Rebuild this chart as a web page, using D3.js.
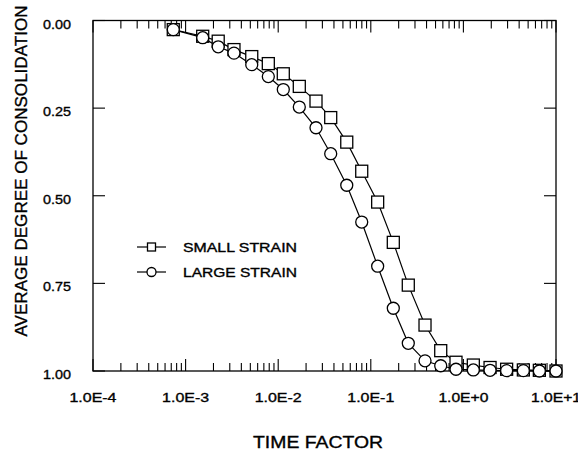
<html>
<head>
  <script src="https://d3js.org/d3.v7.min.js"></script>
  <style>
    body { margin: 0; background: #fff; }
    text { font-family: "Liberation Sans", Arial, sans-serif; fill: #000; stroke: #000; stroke-width: 0.35px; }
    .frame { fill: none; stroke: #000; stroke-width: 1.3px; }
    .tick-line { stroke: #000; stroke-width: 1.1px; }
    .curve { fill: none; stroke: #000; stroke-width: 1.2px; }
    .mark { fill: #fff; stroke: #000; stroke-width: 1.3px; }
  </style>
</head>
<body>
  <svg id="chart" width="578" height="453"></svg>
  <script>
    // time factor (shared by both series)
    const timeFactor = [7.36e-4, 1.53e-3, 2.25e-3, 3.33e-3, 5.18e-3, 7.82e-3, 0.01135, 0.0169,
      0.0256, 0.0369, 0.0550, 0.0798, 0.1186, 0.175, 0.254, 0.385, 0.569, 0.832,
      1.28, 1.94, 2.93, 4.44, 6.61, 10];
    const smallStrain = [0.026, 0.045, 0.059, 0.083, 0.103, 0.123, 0.152, 0.188, 0.230, 0.277,
      0.347, 0.430, 0.518, 0.633, 0.755, 0.869, 0.942, 0.975, 0.983, 0.990, 0.995, 0.997, 0.998, 1.0];
    const largeStrain = [0.026, 0.049, 0.075, 0.093, 0.126, 0.160, 0.197, 0.247, 0.306, 0.380,
      0.470, 0.575, 0.701, 0.821, 0.921, 0.971, 0.985, 0.995, 0.997, 0.998, 0.999, 0.999, 1.0, 1.0];
    const xTickValues = [1e-4, 1e-3, 1e-2, 1e-1, 1, 10];
    const xTickLabels = ["1.0E-4", "1.0E-3", "1.0E-2", "1.0E-1", "1.0E+0", "1.0E+1"];
    const yTickValues = [0, 0.25, 0.5, 0.75, 1];
    const yTickLabels = ["0.00", "0.25", "0.50", "0.75", "1.00"];
    const seriesNames = ["SMALL STRAIN", "LARGE STRAIN"];

    const svg = d3.select("#chart");
    const plotLeft = 93, plotRight = 556, plotTop = 20.5, plotBottom = 371;

    const x = d3.scaleLog().domain([1e-4, 10]).range([plotLeft, plotRight]);
    const y = d3.scaleLinear().domain([0, 1]).range([plotTop, plotBottom]);

    // minor ticks 2..9 in each decade
    let minor = [];
    for (let e = -4; e < 1; e++) {
      for (let k = 2; k <= 9; k++) minor.push(k * Math.pow(10, e));
    }

    const ticks = svg.append("g");
    [[plotBottom, -1], [plotTop, 1]].forEach(([yy, dir]) => {
      ticks.selectAll(null).data(minor).join("line")
        .attr("class", "tick-line")
        .attr("x1", d => x(d)).attr("x2", d => x(d))
        .attr("y1", yy).attr("y2", yy + dir * 8);
      ticks.selectAll(null).data(xTickValues).join("line")
        .attr("class", "tick-line")
        .attr("x1", d => x(d)).attr("x2", d => x(d))
        .attr("y1", yy).attr("y2", yy + dir * 12);
    });
    [[plotLeft, 1], [plotRight, -1]].forEach(([xx, dir]) => {
      ticks.selectAll(null).data(yTickValues).join("line")
        .attr("class", "tick-line")
        .attr("y1", d => y(d)).attr("y2", d => y(d))
        .attr("x1", xx).attr("x2", xx + dir * 12);
    });

    svg.append("rect").attr("class", "frame")
      .attr("x", plotLeft).attr("y", plotTop)
      .attr("width", plotRight - plotLeft).attr("height", plotBottom - plotTop);

    // tick labels
    svg.append("g").selectAll("text").data(xTickValues).join("text")
      .attr("x", d => x(d)).attr("y", 402)
      .attr("text-anchor", "middle")
      .attr("font-size", 13)
      .attr("textLength", (d, i) => xTickLabels[i].includes("+") ? 50 : 47)
      .attr("lengthAdjust", "spacingAndGlyphs")
      .text((d, i) => xTickLabels[i]);

    svg.append("g").selectAll("text").data(yTickValues).join("text")
      .attr("x", 71).attr("y", d => y(d) + 8)
      .attr("text-anchor", "end")
      .attr("font-size", 13)
      .attr("textLength", 28)
      .attr("lengthAdjust", "spacingAndGlyphs")
      .text((d, i) => yTickLabels[i]);

    // axis titles
    svg.append("text")
      .attr("x", 318).attr("y", 448)
      .attr("text-anchor", "middle")
      .attr("font-size", 17)
      .attr("textLength", 130)
      .attr("lengthAdjust", "spacingAndGlyphs")
      .text("TIME FACTOR");

    svg.append("text")
      .attr("transform", "translate(27,171) rotate(-90)")
      .attr("text-anchor", "middle")
      .attr("font-size", 17)
      .attr("textLength", 331)
      .attr("lengthAdjust", "spacingAndGlyphs")
      .text("AVERAGE DEGREE OF CONSOLIDATION");

    // curves
    const line = d3.line().x(d => x(d[0])).y(d => y(d[1]));
    const smallPts = timeFactor.map((t, i) => [t, smallStrain[i]]);
    const largePts = timeFactor.map((t, i) => [t, largeStrain[i]]);

    svg.append("path").datum(smallPts).attr("class", "curve").attr("d", line);
    svg.append("path").datum(largePts).attr("class", "curve").attr("d", line);

    const sq = 12;
    svg.append("g").selectAll("rect").data(smallPts).join("rect")
      .attr("class", "mark")
      .attr("x", d => x(d[0]) - sq / 2).attr("y", d => y(d[1]) - sq / 2)
      .attr("width", sq).attr("height", sq);

    svg.append("g").selectAll("circle").data(largePts).join("circle")
      .attr("class", "mark")
      .attr("cx", d => x(d[0])).attr("cy", d => y(d[1]))
      .attr("r", 6);

    // legend
    const legend = svg.append("g");
    const rows = [247, 272];
    rows.forEach((ly, i) => {
      legend.append("line").attr("class", "curve")
        .attr("x1", 137).attr("x2", 166).attr("y1", ly).attr("y2", ly);
      if (i === 0) {
        legend.append("rect").attr("class", "mark")
          .attr("x", 151.5 - 4).attr("y", ly - 4).attr("width", 8).attr("height", 8);
      } else {
        legend.append("circle").attr("class", "mark")
          .attr("cx", 151.5).attr("cy", ly).attr("r", 4.5);
      }
      legend.append("text")
        .attr("x", 183).attr("y", ly + 5)
        .attr("font-size", 13)
        .attr("textLength", 114)
        .attr("lengthAdjust", "spacingAndGlyphs")
        .text(seriesNames[i]);
    });
  </script>
</body>
</html>
